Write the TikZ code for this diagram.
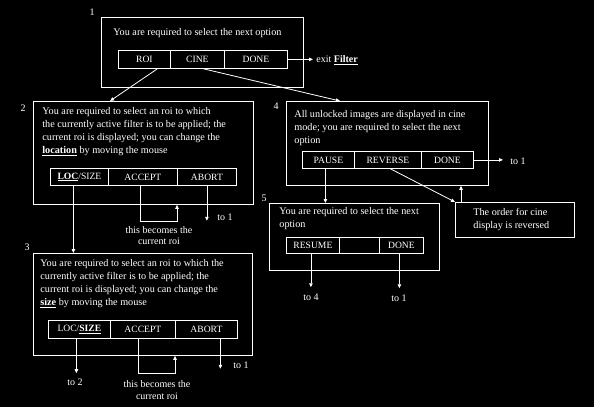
\documentclass[tikz,border=0pt]{standalone}
\usepackage{fontspec}
\setmainfont{Liberation Serif}
\usetikzlibrary{arrows.meta}

\begin{document}
\begin{tikzpicture}[x=1pt, y=-1pt, line width=0.8pt, white,
  box/.style={draw, anchor=north west, inner sep=0pt},
  cell/.style={draw, anchor=north west, inner sep=0pt, font=\fontsize{9.6}{11}\selectfont},
  txt/.style={anchor=north west, inner sep=0pt, align=left, font=\fontsize{10.2}{13}\selectfont},
  lbl/.style={inner sep=0pt, font=\fontsize{10}{11.5}\selectfont},
  arr/.style={-{Triangle[length=4pt,width=3.5pt]}}]
  \useasboundingbox (0,0) rectangle (594,407);
  \fill[black] (0,0) rectangle (594,407);
  % screens
  \node[box, minimum width=202pt, minimum height=70pt] (b1) at (101,17) {};
  \node[box, minimum width=220pt, minimum height=103pt] (b2) at (33,101) {};
  \node[box, minimum width=219pt, minimum height=102pt] (b3) at (33,253) {};
  \node[box, minimum width=202pt, minimum height=84pt] (b4) at (286,101) {};
  \node[box, minimum width=170pt, minimum height=67pt] (b5) at (269,203) {};
  \node[box, minimum width=119pt, minimum height=35pt] (side) at (455,202) {};
  \node[lbl] (n1) at (92,12) {1};
  \node[lbl] (n2) at (23,108) {2};
  \node[lbl] (n3) at (27,247) {3};
  \node[lbl] (n4) at (276,106) {4};
  \node[lbl] (n5) at (264,198) {5};
  % texts
  \node[txt] (t1) at (113,28) {You are required to select the next option};
  \node[txt] (t2) at (42,107) {You are required to select an roi to which\\
    the currently active filter is to be applied; the\\
    current roi is displayed; you can change the\\
    \underline{\textbf{location}} by moving the mouse};
  \node[txt] (t3) at (40,259) {You are required to select an roi to which the\\
    currently active filter is to be applied; the\\
    current roi is displayed; you can change the\\
    \underline{\textbf{size}} by moving the mouse};
  \node[txt] (t4) at (294,110) {All unlocked images are displayed in cine\\
    mode; you are required to select the next\\
    option};
  \node[txt] (t5) at (279,207) {You are required to select the next\\option};
  \node[txt] (t6) at (473,208) {The order for cine\\display is reversed};
  % menus
  \foreach \n/\x/\w/\t in {roi/118/52pt/ROI, cine/170/54pt/CINE, done1/224/63pt/DONE}
    \node[cell, minimum width=\w, minimum height=18pt] (\n) at (\x,50) {\t};
  \foreach \n/\x/\w/\t in {loc2/50/58pt/{\underline{\textbf{LOC}}/SIZE}, acc2/108/69pt/ACCEPT, abt2/177/59pt/ABORT}
    \node[cell, minimum width=\w, minimum height=17pt] (\n) at (\x,168) {\t};
  \foreach \n/\x/\w/\t in {loc3/48/62pt/{LOC/\underline{\textbf{SIZE}}}, acc3/110/65pt/ACCEPT, abt3/175/62pt/ABORT}
    \node[cell, minimum width=\w, minimum height=18pt] (\n) at (\x,320) {\t};
  \foreach \n/\x/\w/\t in {pause/302/52pt/PAUSE, rev/354/67pt/REVERSE, done4/421/52pt/DONE}
    \node[cell, minimum width=\w, minimum height=17pt] (\n) at (\x,151) {\t};
  \foreach \n/\x/\w/\t in {res/286/53pt/RESUME, blank/339/40pt/{}, done5/379/44pt/DONE}
    \node[cell, minimum width=\w, minimum height=16pt] (\n) at (\x,237) {\t};
  % free labels
  \node[lbl, anchor=west] (exit) at (316,60) {exit \underline{\textbf{Filter}}};
  \node[lbl] (to21) at (225,217) {to 1};
  \node[lbl, align=center] (cur2) at (159,235.5) {this becomes the\\current roi};
  \node[lbl] (to2) at (75,382) {to 2};
  \node[lbl] (to31) at (241,365) {to 1};
  \node[lbl, align=center] (cur3) at (157,390) {this becomes the\\current roi};
  \node[lbl, anchor=west] (to41) at (510,161) {to 1};
  \node[lbl] (to4) at (311,297) {to 4};
  \node[lbl] (to51) at (399,298) {to 1};
  % connectors
  \draw[arr] ([xshift=13pt]roi.south) -- ([xshift=77pt]b2.north west);
  \draw[arr] ([xshift=6pt]cine.south) -- ([xshift=54pt]b4.north west);
  \draw[arr, shorten >=3pt] (done1.east) -- (done1.east -| exit.west);
  \draw[arr] ([xshift=-6pt]loc2.south) -- ([xshift=-6pt]loc2.south |- b3.north);
  \draw[arr] ([xshift=-3pt]acc2.south) -- ++(0,36) -| (abt2.west |- b2.south);
  \draw[arr] (abt2.south) -- (abt2.south |- to21.south);
  \draw[arr, shorten >=5pt] ([xshift=-3pt]loc3.south) -- ([xshift=-3pt]loc3.south |- to2.north);
  \draw[arr] ([xshift=-4.5pt]acc3.south) -- ++(0,35) -| (abt3.west |- b3.south);
  \draw[arr] ([xshift=14pt]abt3.south) -- ([xshift=14pt]abt3.south |- to31.south);
  \draw[arr, shorten >=7pt] (done4.east) -- (done4.east -| to41.west);
  \draw[arr] ([xshift=-3pt]pause.south) -- ([xshift=-3pt]pause.south |- b5.north);
  \draw[arr] ([xshift=2.5pt]rev.south) -- (side.north west);
  \draw[arr] ([xshift=6pt]side.north west) -- ([xshift=6pt]side.north west |- b4.south);
  \draw[arr, shorten >=6pt] ([xshift=-2pt]res.south) -- ([xshift=-2pt]res.south |- to4.north);
  \draw[arr, shorten >=6pt] ([xshift=-2pt]done5.south) -- ([xshift=-2pt]done5.south |- to51.north);
\end{tikzpicture}
\end{document}
